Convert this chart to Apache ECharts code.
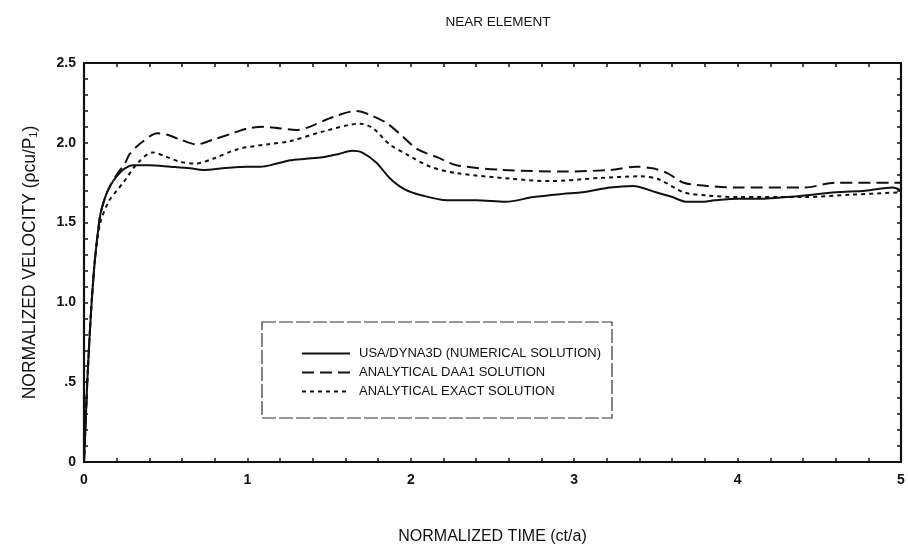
<!DOCTYPE html>
<html>
<head>
<meta charset="utf-8">
<script src="https://cdn.jsdelivr.net/npm/echarts@6/dist/echarts.min.js"></script>
<style>
  html, body { margin: 0; padding: 0; background: #fff; }
  #chart { width: 908px; height: 550px; }
</style>
</head>
<body>
<div id="chart"></div>
<script>
// Normalized time (ct/a) and normalized velocity for the near element
var numT = [0, 0.01, 0.02, 0.035, 0.05, 0.07, 0.1, 0.13, 0.16, 0.2, 0.25, 0.3, 0.4, 0.53, 0.65, 0.73, 0.85, 1.0, 1.08, 1.18, 1.26, 1.36, 1.46, 1.56, 1.64, 1.70, 1.79, 1.87, 1.96, 2.07, 2.22, 2.4, 2.58, 2.75, 2.93, 3.05, 3.22, 3.36, 3.5, 3.6, 3.69, 3.78, 3.86, 4.0, 4.16, 4.3, 4.41, 4.6, 4.78, 4.95, 5.0];
var numV = [0, 0.25, 0.5, 0.8, 1.05, 1.3, 1.55, 1.66, 1.73, 1.79, 1.84, 1.86, 1.86, 1.85, 1.84, 1.83, 1.84, 1.85, 1.85, 1.87, 1.89, 1.9, 1.91, 1.93, 1.95, 1.94, 1.875, 1.78, 1.71, 1.67, 1.64, 1.64, 1.63, 1.66, 1.68, 1.69, 1.72, 1.73, 1.69, 1.66, 1.63, 1.63, 1.64, 1.65, 1.65, 1.66, 1.67, 1.69, 1.70, 1.72, 1.70];

var daaT = [0, 0.01, 0.02, 0.035, 0.05, 0.07, 0.1, 0.13, 0.16, 0.2, 0.25, 0.28, 0.35, 0.45, 0.51, 0.59, 0.69, 0.79, 0.91, 1.0, 1.1, 1.2, 1.3, 1.38, 1.52, 1.67, 1.75, 1.85, 1.95, 2.04, 2.16, 2.28, 2.56, 2.95, 3.22, 3.38, 3.48, 3.57, 3.67, 3.81, 4.0, 4.41, 4.6, 5.0];
var daaV = [0, 0.25, 0.5, 0.8, 1.05, 1.3, 1.55, 1.66, 1.73, 1.8, 1.87, 1.93, 2.0, 2.06, 2.05, 2.02, 1.99, 2.02, 2.06, 2.09, 2.10, 2.09, 2.08, 2.1, 2.16, 2.2, 2.175, 2.125, 2.04, 1.96, 1.91, 1.86, 1.83, 1.82, 1.83, 1.85, 1.84, 1.81, 1.75, 1.73, 1.72, 1.72, 1.75, 1.75];

var exactT = [0, 0.01, 0.02, 0.035, 0.05, 0.07, 0.1, 0.15, 0.2, 0.24, 0.33, 0.42, 0.51, 0.59, 0.68, 0.79, 0.94, 1.12, 1.26, 1.46, 1.69, 1.77, 1.87, 1.98, 2.12, 2.28, 2.61, 2.85, 3.16, 3.40, 3.52, 3.67, 3.81, 4.0, 4.41, 4.7, 5.0];
var exactV = [0, 0.25, 0.5, 0.8, 1.05, 1.3, 1.5, 1.63, 1.7, 1.75, 1.875, 1.94, 1.91, 1.88, 1.87, 1.9, 1.96, 1.99, 2.01, 2.07, 2.12, 2.09, 1.99, 1.925, 1.85, 1.81, 1.775, 1.76, 1.78, 1.79, 1.77, 1.69, 1.67, 1.66, 1.66, 1.675, 1.69];

var xTickLabels = ['0', '1', '2', '3', '4', '5'];
var yTickLabels = {'0': '0', '0.5': '.5', '1': '1.0', '1.5': '1.5', '2': '2.0', '2.5': '2.5'};

var seriesNames = ['USA/DYNA3D (NUMERICAL SOLUTION)', 'ANALYTICAL DAA1 SOLUTION', 'ANALYTICAL EXACT SOLUTION'];

function zip(t, v) { return t.map(function (x, i) { return [x, v[i]]; }); }

var FONT = '"Liberation Sans", Arial, sans-serif';
var INK = '#111';

var chart = echarts.init(document.getElementById('chart'), null, { renderer: 'canvas' });

function frameAxis(base) {
  return Object.assign({
    min: 0,
    axisLine: { show: true, onZero: false, lineStyle: { color: INK, width: 2.2 } },
    axisTick: { show: true, inside: true, length: 4, lineStyle: { color: INK, width: 1.5 } },
    minorTick: { show: true, splitNumber: 5, length: 4, lineStyle: { color: INK, width: 1.5 } },
    splitLine: { show: false },
    minorSplitLine: { show: false }
  }, base);
}

function lineSeries(i, t, v, dash) {
  return {
    name: seriesNames[i], type: 'line', data: zip(t, v),
    symbol: 'none', smooth: 0.3,
    lineStyle: { color: INK, width: 2, type: dash }, itemStyle: { color: INK }
  };
}

chart.setOption({
  animation: false,
  backgroundColor: '#fff',
  title: {
    text: 'NEAR ELEMENT',
    left: 493, top: 10, textAlign: 'center',
    textStyle: { fontFamily: FONT, fontSize: 13.5, fontWeight: 'normal', color: INK }
  },
  grid: { left: 84, right: 7, top: 63, bottom: 87 },
  legend: {
    show: true,
    orient: 'vertical',
    left: 296, top: 342,
    itemWidth: 48, itemHeight: 14, itemGap: 6,
    itemStyle: { opacity: 0, borderWidth: 0 },
    textStyle: { fontFamily: FONT, fontSize: 13, color: INK, padding: [0, 0, 0, 4] },
    data: seriesNames
  },
  graphic: [{
    type: 'rect',
    shape: { x: 262, y: 322, width: 350, height: 96 },
    style: { fill: 'none', stroke: '#333', lineWidth: 1.2, lineDash: [14, 3] },
    z: 10
  }],
  xAxis: [
    frameAxis({
      type: 'value', max: 5, interval: 1, position: 'bottom',
      name: 'NORMALIZED TIME (ct/a)', nameLocation: 'middle', nameGap: 67,
      nameTextStyle: { fontFamily: FONT, fontSize: 16, color: INK },
      axisLabel: {
        margin: 11, fontFamily: FONT, fontSize: 14, fontWeight: 'bold', color: INK,
        formatter: function (v) { return xTickLabels[Math.round(v)]; }
      }
    }),
    frameAxis({
      type: 'value', max: 5, interval: 1, position: 'top',
      axisLabel: { show: false }
    })
  ],
  yAxis: [
    frameAxis({
      type: 'value', max: 2.5, interval: 0.5, position: 'left',
      name: 'NORMALIZED VELOCITY (\u03C1cu/P\u2081)', nameLocation: 'middle', nameGap: 45,
      nameTextStyle: { fontFamily: FONT, fontSize: 17.5, color: INK },
      axisLabel: {
        margin: 8, fontFamily: FONT, fontSize: 14, fontWeight: 'bold', color: INK,
        formatter: function (v) { return yTickLabels[String(v)]; }
      }
    }),
    frameAxis({
      type: 'value', max: 2.5, interval: 0.5, position: 'right',
      axisLabel: { show: false }
    })
  ],
  series: [
    lineSeries(0, numT, numV, 'solid'),
    lineSeries(1, daaT, daaV, [12, 6]),
    lineSeries(2, exactT, exactV, [4, 4])
  ]
});
</script>
</body>
</html>
